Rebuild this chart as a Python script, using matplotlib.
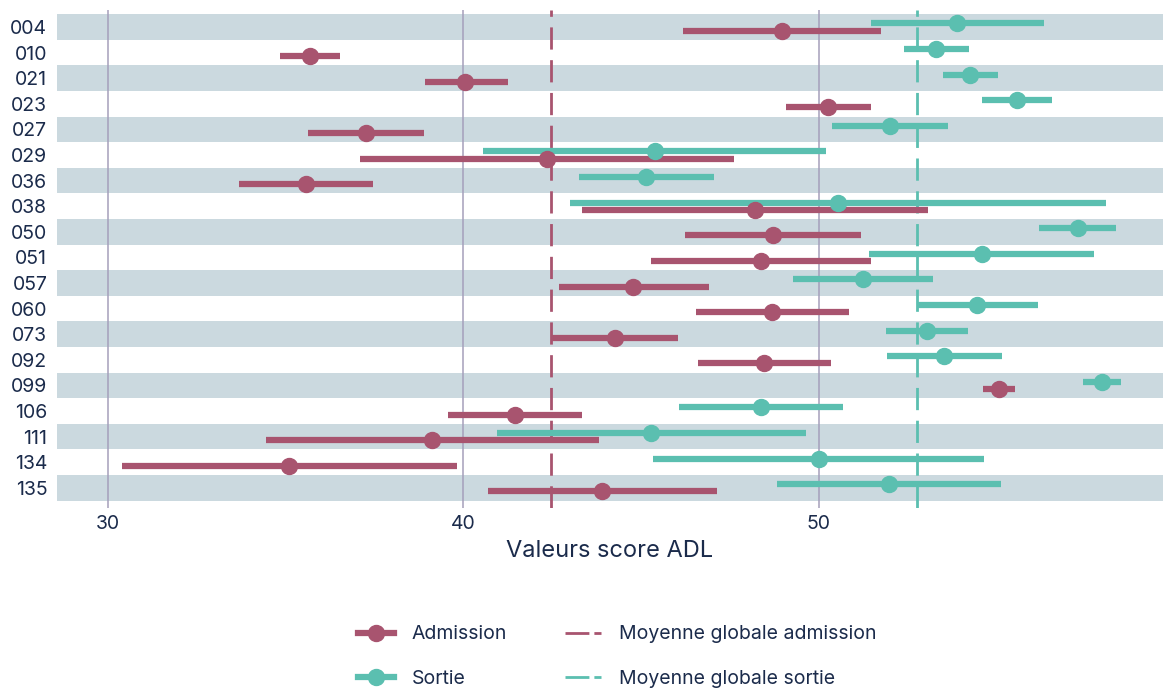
import matplotlib
matplotlib.use("Agg")
import matplotlib.pyplot as plt
from matplotlib.lines import Line2D

plt.rcParams['font.family'] = ['Inter', 'DejaVu Sans']

patients = ['004', '010', '021', '023', '027', '029', '036', '038', '050', '051',
            '057', '060', '073', '092', '099', '106', '111', '134', '135']

adm_mean = [48.96, 35.68, 40.06, 50.25, 37.25, 42.36, 35.58, 48.20, 48.70, 48.38,
            44.78, 48.69, 44.26, 48.47, 55.06, 41.46, 39.13, 35.10, 43.90]
adm_low = [46.17, 34.84, 38.91, 49.07, 35.62, 37.08, 33.70, 43.34, 46.23, 45.29,
           42.69, 46.54, 42.46, 46.60, 54.61, 39.58, 34.46, 30.41, 40.70]
adm_high = [51.74, 36.53, 41.25, 51.46, 38.88, 47.60, 37.47, 53.06, 51.18, 51.48,
            46.90, 50.85, 46.03, 50.35, 55.52, 43.33, 43.81, 39.81, 47.13]

sor_mean = [53.88, 53.29, 54.26, 55.58, 52.01, 45.38, 45.15, 50.53, 57.28, 54.58,
            51.25, 54.45, 53.05, 53.53, 57.96, 48.37, 45.28, 49.99, 51.96]
sor_low = [51.46, 52.39, 53.48, 54.60, 50.37, 40.56, 43.26, 43.00, 56.20, 51.42,
           49.28, 52.79, 51.89, 51.93, 57.43, 46.08, 40.94, 45.34, 48.83]
sor_high = [56.33, 54.22, 55.03, 56.57, 53.64, 50.20, 47.04, 58.07, 58.35, 57.75,
            53.21, 56.16, 54.19, 55.15, 58.50, 50.68, 49.64, 54.64, 55.13]

adm_global = 42.46
sor_global = 52.77

c_adm = '#a8546f'
c_sor = '#5bbfb0'
c_band = '#cbd9df'
c_grid = '#a59fbb'
c_text = '#1b2b4b'

fig = plt.figure(figsize=(11.63, 6.91), dpi=100)
ax = fig.add_axes([0.049, 0.265, 0.951, 0.7205])

n = len(patients)
for i in range(n):
    if i % 2 == 0:
        ax.axhspan(i - 0.5, i + 0.5, color=c_band, lw=0, zorder=0)

for v in [30, 40, 50]:
    ax.axvline(v, color=c_grid, lw=1.1, zorder=1)

ax.axvline(adm_global, color=c_adm, lw=2, dashes=(8, 3.8), zorder=2)
ax.axvline(sor_global, color=c_sor, lw=2, dashes=(8, 3.8), zorder=2)

off = 0.14
for i in range(n):
    ya = i + off
    ys = i - off
    ax.plot([sor_low[i], sor_high[i]], [ys, ys], color=c_sor, lw=4.5,
            solid_capstyle='butt', zorder=3)
    ax.plot(sor_mean[i], ys, 'o', color=c_sor, ms=11.5, zorder=4)
    ax.plot([adm_low[i], adm_high[i]], [ya, ya], color=c_adm, lw=4.5,
            solid_capstyle='butt', zorder=3)
    ax.plot(adm_mean[i], ya, 'o', color=c_adm, ms=11.5, zorder=4)

ax.set_xlim(28.57, 59.68)
ax.set_ylim(18.78, -0.66)
ax.set_yticks(range(n))
ax.set_yticklabels(patients)
ax.set_xticks([30, 40, 50])
ax.tick_params(length=0, labelsize=14, colors=c_text)
ax.tick_params(axis='x', pad=5)
ax.tick_params(axis='y', pad=7)
for s in ax.spines.values():
    s.set_visible(False)
ax.set_xlabel('Valeurs score ADL', fontsize=17, color=c_text, labelpad=5)

handles = [
    Line2D([], [], color=c_adm, lw=4.5, marker='o', ms=11.5),
    Line2D([], [], color=c_sor, lw=4.5, marker='o', ms=11.5),
    Line2D([], [], color=c_adm, lw=2, dashes=(8.6, 1.8)),
    Line2D([], [], color=c_sor, lw=2, dashes=(8.6, 1.8)),
]
labels = ['Admission', 'Sortie', 'Moyenne globale admission', 'Moyenne globale sortie']
leg = fig.legend(handles, labels, loc='center', bbox_to_anchor=(0.5305, 0.05), ncol=2,
                 frameon=False, fontsize=14, handlelength=1.85, handletextpad=0.9,
                 labelspacing=1.35, columnspacing=3.0)
for t in leg.get_texts():
    t.set_color(c_text)

fig.savefig('out.png', dpi=100)
